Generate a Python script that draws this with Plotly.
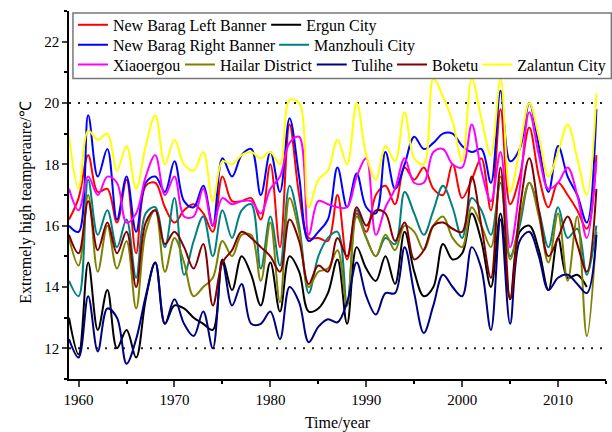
import plotly.graph_objects as go

years = list(range(1959, 2015))

new_barag_left = [16.2, 16.9, 18.3, 17.1, 17.2, 16.1, 17.5, 15.1, 17.3, 17.4, 16.6, 16.1, 16.5, 16.7, 16.4, 15.8,
                  17.6, 16.8, 16.8, 16.9, 16.2, 18.0, 15.3, 19.3, 17.0, 15.6, 15.6, 15.5, 17.0, 14.9, 16.4, 15.8,
                  17.0, 17.3, 16.7, 17.9, 17.5, 17.9, 17.2, 17.0, 18.0, 16.9, 17.5, 18.2, 16.5, 19.8, 16.7, 17.6,
                  19.2, 17.6, 16.6, 17.4, 17.0, 16.5, 15.9, 18.3]
ergun = [13.0, 11.8, 14.8, 12.6, 13.9, 12.0, 12.6, 11.7, 13.6, 14.8, 12.8, 13.4, 13.3, 13.0, 12.8, 12.6,
         14.9, 13.9, 15.0, 14.4, 13.4, 14.8, 13.2, 15.0, 14.5, 13.2, 13.3, 13.8, 14.9, 12.8, 15.3, 14.6,
         14.2, 15.0, 14.1, 15.8, 14.5, 13.7, 14.0, 15.4, 14.9, 15.1, 16.4, 15.5, 14.0, 16.4, 13.6, 15.8,
         16.0, 15.2, 13.9, 15.6, 14.3, 14.4, 14.0]
new_barag_right = [16.0, 15.8, 19.6, 17.6, 18.5, 16.2, 17.6, 15.8, 17.4, 17.6, 17.1, 18.1, 16.8, 16.6, 17.3, 16.0,
                   18.2, 17.6, 18.3, 18.5, 17.0, 18.4, 17.1, 19.5, 17.6, 15.5, 15.8, 16.2, 17.9, 16.6, 17.7, 16.6,
                   16.4, 18.4, 17.2, 18.0, 18.9, 18.5, 18.7, 19.0, 19.0, 18.6, 18.4, 18.5, 17.4, 20.4, 18.1, 18.5,
                   20.0, 18.6, 17.1, 18.6, 17.6, 17.0, 16.1, 19.8]
manzhouli = [14.2, 13.7, 17.5, 15.7, 16.5, 15.3, 16.2, 14.3, 16.4, 16.6, 15.3, 16.9, 14.4, 15.5, 16.3, 15.0,
             16.5, 15.6, 16.5, 16.7, 14.6, 16.3, 14.7, 17.3, 16.0, 13.8, 15.0, 15.6, 15.8, 13.4, 16.5, 15.6,
             15.0, 15.6, 15.4, 17.1, 16.4, 15.7, 16.5, 17.3, 16.6, 15.6, 16.9, 16.5, 15.7, 17.4, 15.0, 16.0,
             17.4, 16.5, 15.3, 16.6, 15.6, 15.9, 14.4, 16.0]
xiaoergou = [17.2, 16.5, 17.6, 17.0, 17.6, 17.4, 16.1, 16.4, 17.6, 18.3, 17.0, 17.6, 16.3, 16.3, 17.2, 16.0,
             16.9, 16.7, 16.8, 16.8, 16.4, 17.2, 17.6, 18.7, 18.9, 15.7, 16.8, 16.7, 16.6, 16.6, 17.6, 18.2,
             15.7, 16.6, 17.2, 18.2, 17.4, 17.4, 18.4, 18.5, 18.0, 17.9, 19.3, 17.8, 16.8, 18.4, 15.3, 17.2,
             19.7, 18.3, 17.2, 17.4, 17.9, 17.0, 15.6, 18.1]
hailar = [15.6, 14.7, 17.0, 14.5, 16.0, 14.6, 15.5, 13.3, 15.8, 16.5, 14.5, 15.6, 14.8, 13.7, 14.0, 14.3,
          15.5, 15.0, 15.7, 15.7, 14.2, 16.1, 13.5, 16.9, 15.8, 14.0, 14.5, 14.6, 15.2, 13.4, 16.3, 15.6,
          15.0, 15.7, 15.2, 16.0, 15.8, 15.2, 16.0, 16.3, 15.6, 15.3, 16.6, 16.0, 15.3, 17.6, 14.9, 16.2,
          17.4, 16.3, 14.8, 16.4, 14.2, 16.3, 12.4, 15.8]
tulihe = [12.3, 11.7, 13.7, 11.9, 13.3, 13.0, 11.5, 12.3, 13.7, 14.8, 12.8, 13.6, 12.8, 12.4, 13.2, 12.0,
          14.8, 13.4, 14.1, 12.8, 12.8, 13.2, 12.3, 14.0, 13.5, 12.2, 12.7, 12.95, 12.85, 13.5, 14.8, 13.7,
          13.1, 13.8, 13.8, 15.3, 13.8, 12.5, 13.4, 14.4, 14.0, 13.7, 15.3, 14.6, 12.6, 16.2, 12.8, 15.5,
          15.8, 15.0, 13.9, 14.3, 14.4, 14.1, 13.8, 15.7]
boketu = [15.7, 15.1, 16.8, 15.2, 16.1, 15.1, 15.8, 14.0, 16.1, 16.5, 15.4, 15.8, 15.3, 14.6, 15.4, 13.4,
          14.8, 15.2, 15.8, 15.6, 15.3, 15.0, 14.5, 16.2, 15.5, 14.1, 14.7, 14.5, 15.6, 15.0, 16.6, 16.0,
          16.5, 16.4, 15.5, 16.1, 14.9, 15.2, 16.0, 16.1, 15.9, 15.8, 17.6, 16.0, 14.3, 17.9, 13.6, 16.5,
          18.2, 16.5, 15.0, 15.6, 16.3, 15.4, 14.5, 17.2]
zalantun = [18.9, 17.2, 19.1, 18.8, 19.0, 17.8, 18.6, 17.2, 18.6, 19.6, 18.0, 18.8, 18.0, 17.8, 18.4, 16.8,
            18.1, 18.0, 18.3, 18.4, 18.2, 18.4, 18.0, 20.1, 20.0, 16.6, 17.5, 17.8, 18.8, 18.0, 20.0, 18.3,
            17.5, 18.6, 18.1, 19.7, 18.2, 18.0, 20.8, 20.2, 19.4, 18.1, 20.8, 19.5, 18.3, 20.8, 17.1, 18.5,
            20.0, 18.9, 17.6, 18.4, 19.3, 18.2, 17.0, 20.3]

# name, values, colour, legend slot (text-left px, row-centre px)
series = [
    ("New Barag Left Banner", new_barag_left, "#FF0000", (113, 25)),
    ("Ergun City", ergun, "#000000", (308, 25)),
    ("New Barag Right Banner", new_barag_right, "#0000FF", (113, 45)),
    ("Manzhouli City", manzhouli, "#008080", (316, 45)),
    ("Xiaoergou", xiaoergou, "#FF00FF", (113, 65)),
    ("Hailar District", hailar, "#808000", (221, 65)),
    ("Tulihe", tulihe, "#000080", (354, 65)),
    ("Boketu", boketu, "#800000", (435, 65)),
    ("Zalantun City", zalantun, "#FFFF00", (521, 65)),
]

ref_levels = [12, 20]
x_range = [1959, 2015]
y_range = [11, 23]
y_title = "Extremely high teamperaure/℃"
x_title = "Time/year"

FONT = "Liberation Serif, Times New Roman, serif"
L, R, T, B = 69, 1, 11, 50
PW, PH = 612 - L - R, 432 - T - B

fig = go.Figure()
legends = {}
for i, (name, vals, color, (tx, ty)) in enumerate(series):
    key = "legend" if i == 0 else f"legend{i + 1}"
    fig.add_trace(go.Scatter(
        x=years[:len(vals)], y=vals, mode="lines", name=name,
        line=dict(color=color, width=2, shape="spline", smoothing=1.0),
        legend=key,
    ))
    legends[key] = dict(orientation="h", x=(tx - 40 - L) / PW, xanchor="left",
                        y=(432 - B - ty) / PH, yanchor="middle",
                        bgcolor="rgba(0,0,0,0)", borderwidth=0,
                        font=dict(family=FONT, size=16, color="black"),
                        itemwidth=30)

for lv in ref_levels:
    fig.add_hline(y=lv, line=dict(color="#222222", width=2, dash="2px,7px"), layer="below")

# legend frame
fig.add_shape(type="rect", xref="paper", yref="paper",
              x0=(73 - L) / PW, x1=1.01, y0=(432 - B - 79) / PH, y1=(432 - B - 13) / PH,
              line=dict(color="#777777", width=1.5), fillcolor="white", layer="above")

# y-axis title placed as rotated text, centred where the reference has it
fig.add_annotation(text=y_title, textangle=-90, xref="paper", yref="paper",
                   x=(26 - L) / PW, y=(432 - B - 204) / PH, xanchor="center", yanchor="middle",
                   showarrow=False, font=dict(family=FONT, size=16, color="black"))

fig.update_layout(
    width=612, height=432,
    margin=dict(l=L, r=R, t=T, b=B),
    paper_bgcolor="white", plot_bgcolor="white",
    font=dict(family=FONT, size=15, color="black"),
    showlegend=True,
    **legends,
    xaxis=dict(range=x_range, dtick=10, tick0=1960, ticks="outside", ticklen=6, tickwidth=1.5,
               showline=True, linecolor="black", linewidth=1.5, showgrid=False, zeroline=False,
               minor=dict(dtick=5, tick0=1960, ticks="outside", ticklen=3, tickwidth=1.5, tickcolor="black"),
               tickfont=dict(family=FONT, size=15),
               title=dict(text=x_title, font=dict(family=FONT, size=16), standoff=12)),
    yaxis=dict(range=y_range, dtick=2, tick0=12, ticks="outside", ticklen=5, tickwidth=1.5,
               showline=True, linecolor="black", linewidth=1.5, showgrid=False, zeroline=False,
               minor=dict(dtick=1, tick0=11, ticks="outside", ticklen=3, tickwidth=1.5, tickcolor="black"),
               tickfont=dict(family=FONT, size=15)),
)

fig.write_html("out.html")
